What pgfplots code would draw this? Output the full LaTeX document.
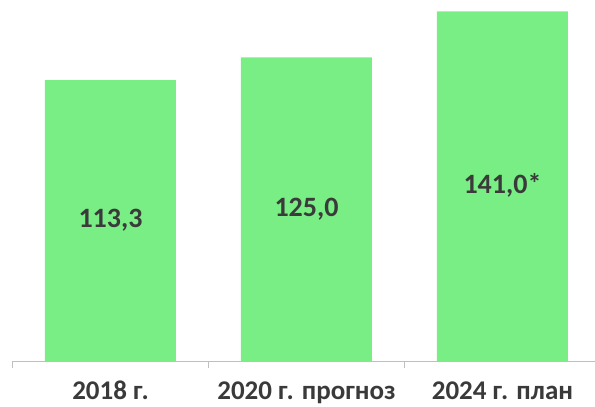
\documentclass[border=0pt]{standalone}
\usepackage{fontspec}
\setmainfont{Carlito}
\usepackage{pgfplots}
\pgfplotsset{compat=1.18}
\definecolor{bargreen}{HTML}{79EE85}
\definecolor{txtgray}{HTML}{3A3A3A}
\definecolor{axgray}{HTML}{BFBFBF}
\begin{document}
\begin{tikzpicture}
\begin{axis}[
  scale only axis,
  width=582.5pt, height=361pt,
  xmin=-0.5, xmax=2.472,
  ymin=0, ymax=145.6,
  axis x line*=bottom,
  axis y line=none,
  x axis line style={axgray, line width=0.9pt, -},
  xtick={0,1,2},
  xticklabels={2018 г., 2020 г. прогноз, 2024 г. план},
  major tick length=0pt,
  minor xtick={-0.5,0.5,1.5,2.5},
  minor tick length=7pt,
  tick align=outside,
  minor tick style={axgray, line width=0.9pt},
  xticklabel style={anchor=base, yshift=-38pt, inner sep=0pt, font=\fontsize{27}{28}\selectfont\bfseries, text=txtgray},
  clip=false,
]
\addplot[ybar, bar width=131pt, fill=bargreen, draw=none] coordinates {(0,113.3) (1,122.5) (2,141.0)};
\addplot[draw=none, mark=none, nodes near coords, point meta=explicit symbolic,
  every node near coord/.append style={anchor=center, font=\fontsize{28}{29}\selectfont\bfseries, text=txtgray}]
  table[meta=label] {
x y label
0 56.65 {113,3}
1 61.4 {125,0}
2 70.9 {141,0*}
};
\coordinate (bl) at (rel axis cs:0,0);
\end{axis}
\pgfresetboundingbox
\path[use as bounding box] (bl) ++(-12.5pt,-46pt) rectangle ++(595pt,407pt);
\end{tikzpicture}
\end{document}
